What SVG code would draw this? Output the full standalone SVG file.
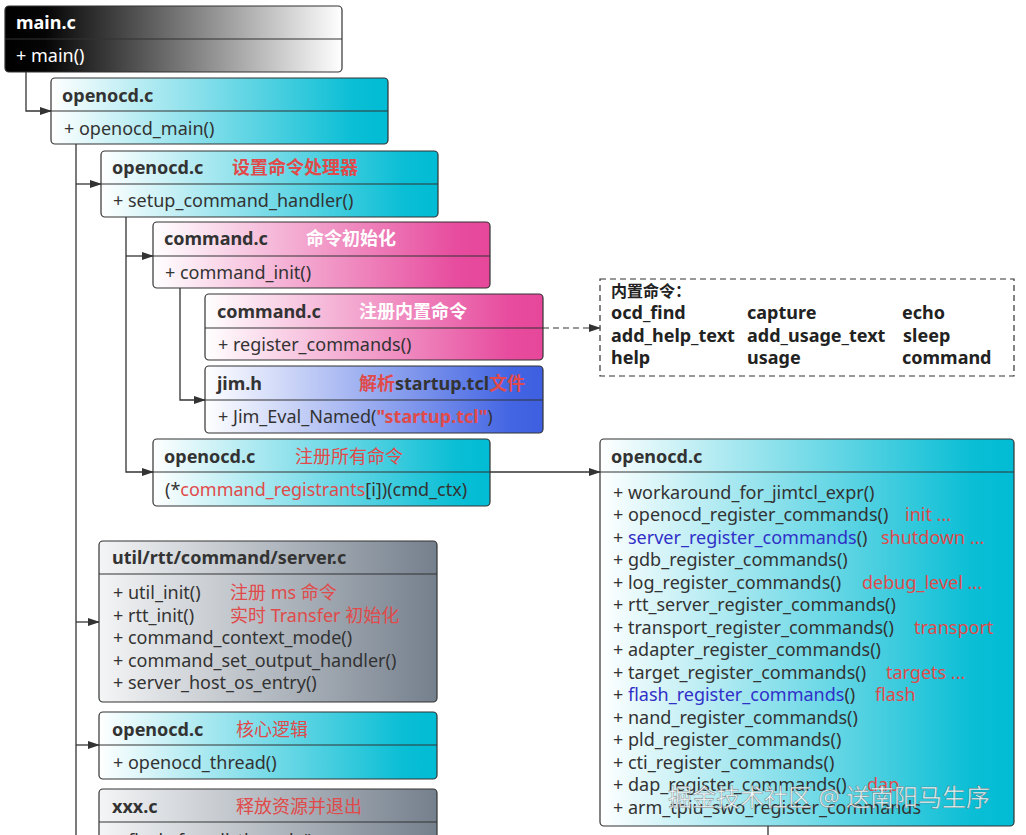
<svg xmlns="http://www.w3.org/2000/svg" width="1026" height="835" viewBox="0 0 1026 835">
<defs>
<linearGradient id="gBlack" x1="0" y1="0" x2="1" y2="0"><stop offset="0" stop-color="#000"/><stop offset="0.12" stop-color="#050505"/><stop offset="1" stop-color="#fff"/></linearGradient>
<linearGradient id="gCyan" x1="0" y1="0" x2="1" y2="0"><stop offset="0" stop-color="#fff"/><stop offset="0.9" stop-color="#0ABED5"/><stop offset="1" stop-color="#00BCD4"/></linearGradient>
<linearGradient id="gPink" x1="0" y1="0" x2="1" y2="0"><stop offset="0" stop-color="#fff"/><stop offset="0.9" stop-color="#E74C9E"/><stop offset="1" stop-color="#E6479A"/></linearGradient>
<linearGradient id="gBlue" x1="0" y1="0" x2="1" y2="0"><stop offset="0" stop-color="#fff"/><stop offset="0.9" stop-color="#4466E3"/><stop offset="1" stop-color="#3D5FE0"/></linearGradient>
<linearGradient id="gGrey" x1="0" y1="0" x2="1" y2="0"><stop offset="0" stop-color="#F4F5F6"/><stop offset="1" stop-color="#75808D"/></linearGradient>
<marker id="arr" markerWidth="12" markerHeight="8" refX="11" refY="4" orient="auto" markerUnits="userSpaceOnUse"><path d="M0,0 L12,4 L0,8 Z" fill="#333"/></marker>
</defs>
<style>
.box{stroke:#333;stroke-width:1.2}
.div{stroke:#333;stroke-width:1.2}
text{font-family:"Noto Sans","Noto Sans CJK SC",sans-serif;font-size:18px;fill:#333}
.t{font-weight:bold}
.w{fill:#fff}
.r{fill:#E04A4A}
.rb{fill:#E04A4A;font-weight:bold}
.b{fill:#3030C8}
.c{stroke:#333;stroke-width:1.3;fill:none}
.d{stroke:#333;stroke-width:1.2;fill:none;stroke-dasharray:6,4}
.cmd{font-weight:bold;font-size:18px;fill:#222}
.wm{font-size:24px;fill:#fff;fill-opacity:0.85;stroke:#555;stroke-width:0.6;stroke-opacity:0.6}
</style>
<rect width="1026" height="835" fill="#fff"/>

<g id="connectors">
<path class="c" d="M26,72 V111 H51" marker-end="url(#arr)"/>
<path class="c" d="M76,144 V835"/>
<path class="c" d="M76,184 H101" marker-end="url(#arr)"/>
<path class="c" d="M126,217 V472 H153" marker-end="url(#arr)"/>
<path class="c" d="M126,256 H153" marker-end="url(#arr)"/>
<path class="c" d="M180,288 V400 H205" marker-end="url(#arr)"/>
<path class="d" d="M543,328 H600" marker-end="url(#arr)"/>
<path class="c" d="M490,472 H600" marker-end="url(#arr)"/>
<path class="c" d="M76,622 H99" marker-end="url(#arr)"/>
<path class="c" d="M76,745 H99" marker-end="url(#arr)"/>
<path class="c" d="M768,826 V835"/>
</g>

<g id="main_c">
<rect class="box" x="5" y="6" width="337" height="66" rx="4" fill="url(#gBlack)"/>
<line class="div" x1="5" y1="39" x2="342" y2="39"/>
<text class="t w" x="16" y="29">main.c</text>
<text class="w" x="16" y="62">+ main()</text>
</g>

<g id="openocd_main">
<rect class="box" x="51" y="78" width="337" height="66" rx="4" fill="url(#gCyan)"/>
<line class="div" x1="51" y1="111" x2="388" y2="111"/>
<text class="t" x="62" y="102">openocd.c</text>
<text x="64" y="135">+ openocd_main()</text>
</g>

<g id="setup_command_handler">
<rect class="box" x="101" y="151" width="337" height="66" rx="4" fill="url(#gCyan)"/>
<line class="div" x1="101" y1="184" x2="438" y2="184"/>
<text class="t" x="112" y="174">openocd.c</text>
<text class="rb" x="232" y="174">设置命令处理器</text>
<text x="113" y="207">+ setup_command_handler()</text>
</g>

<g id="command_init">
<rect class="box" x="153" y="222" width="337" height="66" rx="4" fill="url(#gPink)"/>
<line class="div" x1="153" y1="256" x2="490" y2="256"/>
<text class="t" x="164" y="245">command.c</text>
<text class="t w" x="306" y="245">命令初始化</text>
<text x="165" y="279">+ command_init()</text>
</g>

<g id="register_commands">
<rect class="box" x="205" y="294" width="338" height="66" rx="4" fill="url(#gPink)"/>
<line class="div" x1="205" y1="328" x2="543" y2="328"/>
<text class="t" x="217" y="318">command.c</text>
<text class="t w" x="359" y="318">注册内置命令</text>
<text x="218" y="351">+ register_commands()</text>
</g>

<g id="jim_h">
<rect class="box" x="205" y="366" width="338" height="67" rx="4" fill="url(#gBlue)"/>
<line class="div" x1="205" y1="400" x2="543" y2="400"/>
<text class="t" x="217" y="390">jim.h</text>
<text class="t" x="359" y="390"><tspan class="rb">解析</tspan>startup.tcl<tspan class="rb">文件</tspan></text>
<text x="218" y="423">+ Jim_Eval_Named(<tspan class="rb">"startup.tcl"</tspan>)</text>
</g>

<g id="builtin_commands">
<rect class="d" x="600" y="279" width="414" height="97"/>
<text class="cmd" x="611" y="297" style="font-size:16px">内置命令：</text>
<text class="cmd" x="611" y="319">ocd_find</text>
<text class="cmd" x="747" y="319">capture</text>
<text class="cmd" x="902" y="319">echo</text>
<text class="cmd" x="611" y="342">add_help_text</text>
<text class="cmd" x="747" y="342">add_usage_text</text>
<text class="cmd" x="903" y="342">sleep</text>
<text class="cmd" x="611" y="364">help</text>
<text class="cmd" x="747" y="364">usage</text>
<text class="cmd" x="902" y="364">command</text>
</g>

<g id="command_registrants">
<rect class="box" x="153" y="439" width="337" height="67" rx="4" fill="url(#gCyan)"/>
<line class="div" x1="153" y1="472" x2="490" y2="472"/>
<text class="t" x="164" y="463">openocd.c</text>
<text class="r" x="295" y="463">注册所有命令</text>
<text x="165" y="496">(*<tspan class="r">command_registrants</tspan>[i])(cmd_ctx)</text>
</g>

<g id="openocd_register_all">
<rect class="box" x="600" y="439" width="414" height="387" rx="4" fill="url(#gCyan)"/>
<line class="div" x1="600" y1="472" x2="1014" y2="472"/>
<text class="t" x="611" y="463">openocd.c</text>
<text x="613" y="499">+ workaround_for_jimtcl_expr()</text>
<text x="613" y="521">+ openocd_register_commands()</text><text class="r" x="905" y="521">init ...</text>
<text x="613" y="544">+ <tspan class="b">server_register_commands</tspan>()</text><text class="r" x="881" y="544">shutdown ...</text>
<text x="613" y="566">+ gdb_register_commands()</text>
<text x="613" y="589">+ log_register_commands()</text><text class="r" x="862" y="589">debug_level ...</text>
<text x="613" y="611">+ rtt_server_register_commands()</text>
<text x="613" y="634">+ transport_register_commands()</text><text class="r" x="914" y="634">transport</text>
<text x="613" y="656">+ adapter_register_commands()</text>
<text x="613" y="679">+ target_register_commands()</text><text class="r" x="886" y="679">targets ...</text>
<text x="613" y="701">+ <tspan class="b">flash_register_commands</tspan>()</text><text class="r" x="875" y="701">flash</text>
<text x="613" y="724">+ nand_register_commands()</text>
<text x="613" y="746">+ pld_register_commands()</text>
<text x="613" y="769">+ cti_register_commands()</text>
<text x="613" y="791">+ dap_register_commands()</text><text class="r" x="867" y="791">dap</text>
<text x="613" y="814">+ arm_tpiu_swo_register_commands</text>
</g>

<g id="server_c">
<rect class="box" x="99" y="541" width="338" height="161" rx="4" fill="url(#gGrey)"/>
<line class="div" x1="99" y1="574" x2="437" y2="574"/>
<text class="t" x="112" y="564">util/rtt/command/server.c</text>
<text x="113" y="599">+ util_init()</text><text class="r" x="230" y="599">注册 ms 命令</text>
<text x="113" y="622">+ rtt_init()</text><text class="r" x="230" y="622">实时 Transfer 初始化</text>
<text x="113" y="644">+ command_context_mode()</text>
<text x="113" y="667">+ command_set_output_handler()</text>
<text x="113" y="689">+ server_host_os_entry()</text>
</g>

<g id="openocd_thread">
<rect class="box" x="99" y="712" width="338" height="67" rx="4" fill="url(#gCyan)"/>
<line class="div" x1="99" y1="745" x2="437" y2="745"/>
<text class="t" x="112" y="736">openocd.c</text>
<text class="r" x="236" y="736">核心逻辑</text>
<text x="113" y="769">+ openocd_thread()</text>
</g>

<g id="xxx_c">
<rect class="box" x="99" y="789" width="338" height="80" rx="4" fill="url(#gGrey)"/>
<line class="div" x1="99" y1="822" x2="437" y2="822"/>
<text class="t" x="112" y="813">xxx.c</text>
<text class="r" x="236" y="813">释放资源并退出</text>
<text x="113" y="847">+ flush_for_all_threads()</text>
</g>

<text class="wm" x="668" y="806">掘金技术社区 @ 送南阳马生序</text>
</svg>
